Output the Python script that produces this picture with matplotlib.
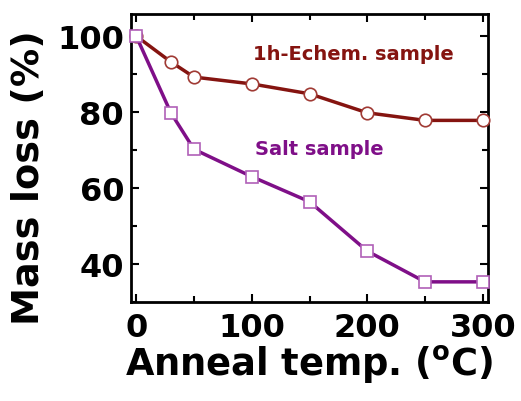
import numpy as np
import matplotlib
matplotlib.use("Agg")
import matplotlib.pyplot as plt
from matplotlib.ticker import MultipleLocator

plt.rcParams['font.family'] = 'DejaVu Sans'
plt.rcParams['font.weight'] = 'bold'
plt.rcParams['mathtext.fontset'] = 'custom'
plt.rcParams['mathtext.rm'] = 'DejaVu Sans:bold'
plt.rcParams['mathtext.default'] = 'rm'

# data
temps = [0, 30, 50, 100, 150, 200, 250, 300]
echem = [100, 93.2, 89.2, 87.4, 84.8, 79.8, 77.8, 77.8]
salt = [100, 79.8, 70.2, 63.0, 56.4, 43.4, 35.3, 35.3]

echemColor = '#851410'
saltColor = '#7f0f88'

fig = plt.figure(figsize=(5.21, 4.02), dpi=100)
ax = fig.add_axes([131/521, 1 - 303/402, (488-131)/521, (303-15)/402])

ax.plot(temps, echem, color=echemColor, lw=2.5, marker='o', ms=9,
        mfc='white', mec='#a03a34', mew=1.2, zorder=3, clip_on=False)
ax.plot(temps, salt, color=saltColor, lw=2.5, marker='s', ms=8.5,
        mfc='white', mec='#b060b8', mew=1.2, zorder=3, clip_on=False)

ax.text(101, 95.3, "1h-Echem. sample", color=echemColor, fontsize=14,
        fontweight='bold', ha='left', va='center')
ax.text(103, 70.3, "Salt sample", color=saltColor, fontsize=14,
        fontweight='bold', ha='left', va='center')

ax.set_xlim(-4.5, 304.5)
ax.set_ylim(30, 105.8)
ax.xaxis.set_major_locator(MultipleLocator(100))
ax.xaxis.set_minor_locator(MultipleLocator(50))
ax.yaxis.set_major_locator(MultipleLocator(20))
ax.yaxis.set_minor_locator(MultipleLocator(10))
ax.tick_params(which='both', direction='in', top=True, right=True, width=1.5)
ax.tick_params(which='major', length=6, labelsize=23)
ax.tick_params(axis='x', which='major', pad=7)
ax.tick_params(axis='y', which='major', pad=5)
ax.tick_params(which='minor', length=4)
for s in ax.spines.values():
    s.set_linewidth(2)

ax.set_xlabel(r"Anneal temp. ($^{\rm o}$C)", fontsize=26.5, fontweight='bold', labelpad=0)
ax.set_ylabel("Mass loss (%)", fontsize=27.5, fontweight='bold')
ax.yaxis.set_label_coords(-0.235, 0.435)

fig.savefig("out.png", dpi=100)
